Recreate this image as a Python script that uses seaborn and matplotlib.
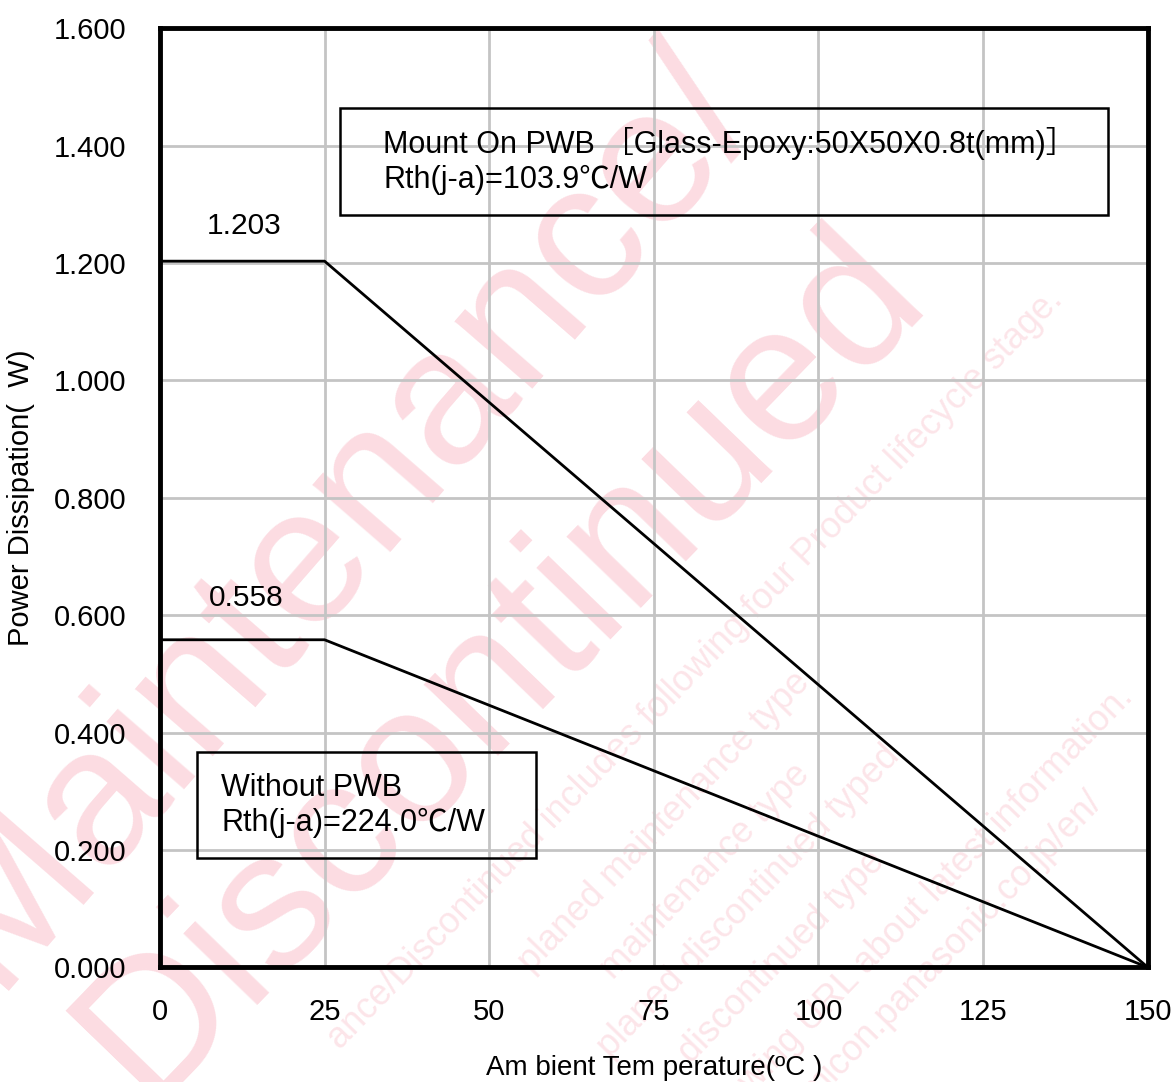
import matplotlib
matplotlib.use("Agg")
import matplotlib.pyplot as plt
from matplotlib.patches import Rectangle
import seaborn as sns
import pandas as pd

# Derating data
temps = [0, 25, 150]
with_pwb = [1.203, 1.203, 0.0]
without_pwb = [0.558, 0.558, 0.0]
x_ticks = [0, 25, 50, 75, 100, 125, 150]
y_ticks = [0.0, 0.2, 0.4, 0.6, 0.8, 1.0, 1.2, 1.4, 1.6]

df = pd.DataFrame({
    "temp": temps * 2,
    "power": with_pwb + without_pwb,
    "board": ["with"] * 3 + ["without"] * 3,
})

sns.set_style("white")
plt.rcParams["font.family"] = ["Liberation Sans", "Noto Sans CJK JP", "DejaVu Sans"]
for k in ["text.color", "axes.labelcolor", "xtick.color", "ytick.color"]:
    plt.rcParams[k] = "black"

fig = plt.figure(figsize=(11.76, 10.82), dpi=100)
ax = fig.add_axes([0.136, 0.106, 0.840, 0.868])
ax.set_facecolor("none")

# watermark behind the plot
wm = "#f0506e"
fig.text(-0.006, 0.085, "Maintenance/", fontsize=140, color=wm, alpha=0.2,
         rotation=49, rotation_mode="anchor", zorder=-1)
fig.text(0.125, -0.02, "Discontinued", fontsize=140, color=wm, alpha=0.2,
         rotation=46, rotation_mode="anchor", zorder=-1)
small = [
    (0.905, 0.722, "ance/Discontinued includes following four Product lifecycle stage."),
    (0.690, 0.368, "planed maintenance type"),
    (0.690, 0.283, "maintenance type"),
    (0.766, 0.300, "planed discontinued typed"),
    (0.753, 0.203, "discontinued type"),
    (0.965, 0.355, "owing URL about latest information."),
    (0.938, 0.258, "micon.panasonic.co.jp/en/"),
]
for x, y, s in small:
    fig.text(x, y, s, fontsize=26, color=wm, alpha=0.15, rotation=46,
             rotation_mode="anchor", ha="right", va="baseline", zorder=-1)

sns.lineplot(data=df, x="temp", y="power", hue="board",
             palette={"with": "black", "without": "black"},
             linewidth=2, legend=False, ax=ax, zorder=3)

ax.set_xlim(0, 150)
ax.set_ylim(0, 1.6)
ax.set_xticks(x_ticks)
ax.set_yticks(y_ticks)
ax.set_xticklabels([str(t) for t in x_ticks])
ax.set_yticklabels([f"{v:.3f}" for v in y_ticks])
ax.tick_params(axis="both", labelsize=21, length=0)
ax.tick_params(axis="x", pad=22)
ax.tick_params(axis="y", pad=24)
ax.grid(True, color="#c4c4c4", linewidth=2)
for sp in ax.spines.values():
    sp.set_visible(True)
    sp.set_color("black")
    sp.set_linewidth(3.5)

ax.set_xlabel("Am bient Tem perature(\u00baC )", fontsize=20, labelpad=21)
ax.set_ylabel("Power Dissipation(  W)", fontsize=21, labelpad=14)

ax.text(7.1, 1.263, "1.203", fontsize=21.5, va="center")
ax.text(7.4, 0.629, "0.558", fontsize=21.5, va="center")

# annotation frames
ax.add_patch(Rectangle((27.3, 1.281), 116.6, 0.183, fill=False,
                       ec="black", lw=1.8, zorder=4))
ax.add_patch(Rectangle((5.6, 0.186), 51.5, 0.180, fill=False,
                       ec="black", lw=1.8, zorder=4))
ax.text(33.9, 1.373,
        "Mount On PWB \uff3bGlass-Epoxy:50X50X0.8t(mm)\uff3d\nRth(j-a)=103.9\u2103/W",
        fontsize=22, va="center", linespacing=1.22, zorder=4)
ax.text(9.3, 0.276, "Without PWB\nRth(j-a)=224.0\u2103/W",
        fontsize=22, va="center", linespacing=1.22, zorder=4)

fig.savefig("out.png", dpi=100)
